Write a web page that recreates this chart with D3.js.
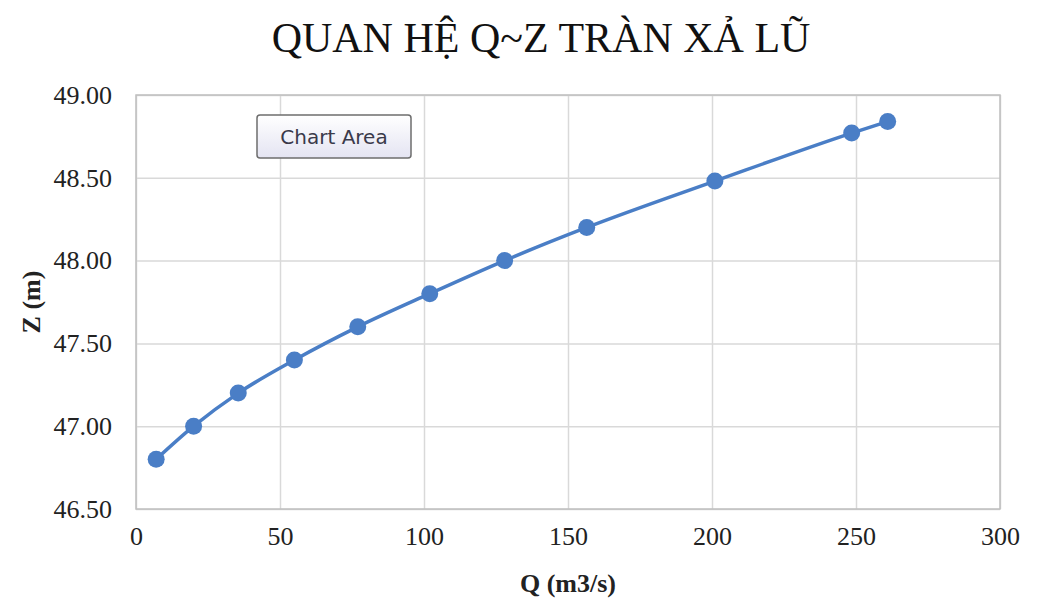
<!DOCTYPE html>
<html>
<head>
<meta charset="utf-8">
<script src="https://cdn.jsdelivr.net/npm/d3@7"></script>
<style>
  html, body { margin: 0; padding: 0; background: #ffffff; }
  svg { display: block; }
</style>
</head>
<body>
<svg id="chart" width="1048" height="602"></svg>
<script>
// Discharge Q (m3/s) against water level Z (m) for the spillway
const dischargeQ = [7, 20, 35.5, 55, 77, 102, 128, 156.5, 201, 248.5, 261];
const levelZ = [46.80, 47.00, 47.20, 47.40, 47.60, 47.80, 48.00, 48.20, 48.48, 48.77, 48.84];
const xTicks = [0, 50, 100, 150, 200, 250, 300];
const yTicks = [46.5, 47.0, 47.5, 48.0, 48.5, 49.0];

const svg = d3.select("#chart");
const margin = { left: 136, right: 48, top: 95, bottom: 93 };
const W = 1048, H = 602;

const x = d3.scaleLinear().domain([0, 300]).range([margin.left, W - margin.right]);
const y = d3.scaleLinear().domain([46.5, 49.0]).range([H - margin.bottom, margin.top]);

const serif = "'Liberation Serif', 'Times New Roman', serif";

// gridlines
svg.append("g")
  .attr("transform", `translate(0,${H - margin.bottom})`)
  .call(d3.axisBottom(x).tickValues(xTicks).tickSize(-(H - margin.bottom - margin.top)).tickFormat(""))
  .call(g => g.select(".domain").remove())
  .call(g => g.selectAll("line").attr("stroke", "#d9d9d9").attr("stroke-width", 1.5));

svg.append("g")
  .attr("transform", `translate(${margin.left},0)`)
  .call(d3.axisLeft(y).tickValues(yTicks).tickSize(-(W - margin.right - margin.left)).tickFormat(""))
  .call(g => g.select(".domain").remove())
  .call(g => g.selectAll("line").attr("stroke", "#d9d9d9").attr("stroke-width", 1.5));

// plot border
svg.append("rect")
  .attr("x", margin.left).attr("y", margin.top)
  .attr("width", W - margin.left - margin.right)
  .attr("height", H - margin.top - margin.bottom)
  .attr("fill", "none").attr("stroke", "#bfbfbf").attr("stroke-width", 1.5);

// tick labels
svg.append("g")
  .attr("transform", `translate(0,${H - margin.bottom})`)
  .call(d3.axisBottom(x).tickValues(xTicks).tickSize(0).tickPadding(18).tickFormat(d3.format("d")))
  .call(g => g.select(".domain").remove())
  .call(g => g.selectAll("text").attr("font-family", serif).attr("font-size", 26).attr("fill", "#222"));

svg.append("g")
  .attr("transform", `translate(${margin.left},0)`)
  .call(d3.axisLeft(y).tickValues(yTicks).tickSize(0).tickPadding(24).tickFormat(d3.format(".2f")))
  .call(g => g.select(".domain").remove())
  .call(g => g.selectAll("text").attr("font-family", serif).attr("font-size", 26).attr("fill", "#222"));

// series
const pts = dischargeQ.map((q, i) => ({ q, z: levelZ[i] }));
const line = d3.line().x(d => x(d.q)).y(d => y(d.z)).curve(d3.curveMonotoneX);

svg.append("path")
  .datum(pts)
  .attr("d", line)
  .attr("fill", "none")
  .attr("stroke", "#4a7ec6")
  .attr("stroke-width", 3.5);

svg.append("g").selectAll("circle")
  .data(pts)
  .join("circle")
  .attr("cx", d => x(d.q))
  .attr("cy", d => y(d.z))
  .attr("r", 8.5)
  .attr("fill", "#4a7ec6");

// title
svg.append("text")
  .attr("x", 541).attr("y", 52)
  .attr("text-anchor", "middle")
  .attr("font-family", serif)
  .attr("font-size", 42)
  .attr("fill", "#111")
  .text("QUAN HỆ Q~Z TRÀN XẢ LŨ");

// axis titles
svg.append("text")
  .attr("x", (margin.left + W - margin.right) / 2).attr("y", 592)
  .attr("text-anchor", "middle")
  .attr("font-family", serif)
  .attr("font-weight", "bold")
  .attr("font-size", 26)
  .attr("fill", "#222")
  .text("Q (m3/s)");

svg.append("text")
  .attr("transform", `translate(40,${(margin.top + H - margin.bottom) / 2}) rotate(-90)`)
  .attr("text-anchor", "middle")
  .attr("font-family", serif)
  .attr("font-weight", "bold")
  .attr("font-size", 26)
  .attr("fill", "#222")
  .text("Z (m)");

// hover tip box
const defs = svg.append("defs");
const grad = defs.append("linearGradient").attr("id", "tipFill").attr("x1", 0).attr("y1", 0).attr("x2", 0).attr("y2", 1);
grad.append("stop").attr("offset", "0%").attr("stop-color", "#ffffff");
grad.append("stop").attr("offset", "100%").attr("stop-color", "#e4e4f2");

const tip = svg.append("g").attr("transform", "translate(257,115)");
tip.append("rect")
  .attr("width", 154).attr("height", 43).attr("rx", 3)
  .attr("fill", "url(#tipFill)")
  .attr("stroke", "#6d6d6d").attr("stroke-width", 1.5);
tip.append("text")
  .attr("x", 77).attr("y", 29)
  .attr("text-anchor", "middle")
  .attr("font-family", "'DejaVu Sans', 'Open Sans', sans-serif")
  .attr("font-size", 20)
  .attr("fill", "#3a3a4a")
  .text("Chart Area");
</script>
</body>
</html>
